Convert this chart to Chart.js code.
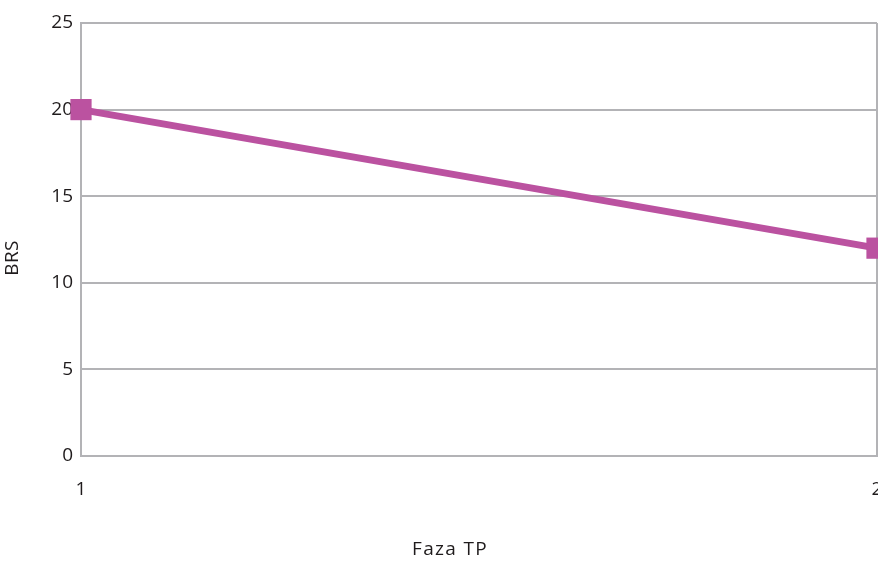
<!DOCTYPE html>
<html>
<head>
<meta charset="utf-8">
<script src="https://cdn.jsdelivr.net/npm/chart.js@4"></script>
<style>
  html, body { margin: 0; padding: 0; background: #ffffff; }
  #wrap { width: 878px; height: 561px; }
</style>
</head>
<body>
<div id="wrap"><canvas id="c" width="878" height="561"></canvas></div>
<script>
// Fazy TP na osi X, wartości BRS na osi Y
const phases = [1, 2];
const brsValues = [20, 12];
const yTicks = [0, 5, 10, 15, 20, 25];
const xTitle = 'Faza TP';
const yTitle = 'BRS';

const gridColor = '#b3b3b6';
const lineColor = '#bb52a0';
const textColor = '#1f1b1c';
const fontFamily = '"Open Sans", "Liberation Sans", sans-serif';

const points = phases.map((p, i) => ({ x: p, y: brsValues[i] }));

// Axis titles, drawn with a little extra letter spacing
const axisTitles = {
  id: 'axisTitles',
  afterDraw(chart) {
    const { ctx, chartArea } = chart;
    ctx.save();
    ctx.fillStyle = textColor;
    ctx.font = '19px ' + fontFamily;
    ctx.textAlign = 'center';
    ctx.textBaseline = 'middle';
    if ('letterSpacing' in ctx) ctx.letterSpacing = '1.3px';
    // X title below the tick labels
    ctx.fillText(xTitle, chartArea.left + 369, chart.height - 11);
    // Y title, rotated, left of the tick labels
    ctx.translate(13, chartArea.top + 235);
    ctx.rotate(-Math.PI / 2);
    if ('letterSpacing' in ctx) ctx.letterSpacing = '0.3px';
    ctx.fillText(yTitle, 0, 0);
    ctx.restore();
  }
};

new Chart(document.getElementById('c'), {
  type: 'line',
  data: {
    datasets: [{
      data: points,
      borderColor: lineColor,
      backgroundColor: lineColor,
      borderWidth: 7,
      pointStyle: 'rect',
      pointRadius: 15,
      pointBorderWidth: 0,
      pointBackgroundColor: lineColor,
      tension: 0,
      clip: false
    }]
  },
  options: {
    responsive: false,
    animation: false,
    devicePixelRatio: 1,
    layout: { autoPadding: false, padding: { top: 23, right: 1, left: 0, bottom: 0 } },
    plugins: { legend: { display: false }, tooltip: { enabled: false } },
    scales: {
      x: {
        type: 'linear',
        min: phases[0],
        max: phases[phases.length - 1],
        afterBuildTicks: (scale) => { scale.ticks = phases.map(v => ({ value: v })); },
        afterFit: (scale) => { scale.height = 105; scale.paddingRight = 0; scale.paddingLeft = 0; },
        grid: { color: gridColor, lineWidth: 2, drawTicks: false },
        border: { color: gridColor, width: 2 },
        ticks: { color: textColor, padding: 22, font: { family: fontFamily, size: 19 } }
      },
      y: {
        min: 0,
        max: 25,
        afterBuildTicks: (scale) => { scale.ticks = yTicks.map(v => ({ value: v })); },
        afterFit: (scale) => { scale.width = 81; scale.paddingTop = 0; },
        grid: { color: gridColor, lineWidth: 2, drawTicks: false },
        border: { color: gridColor, width: 2 },
        ticks: { color: textColor, padding: 8, font: { family: fontFamily, size: 19 } }
      }
    }
  },
  plugins: [axisTitles]
});
</script>
</body>
</html>
